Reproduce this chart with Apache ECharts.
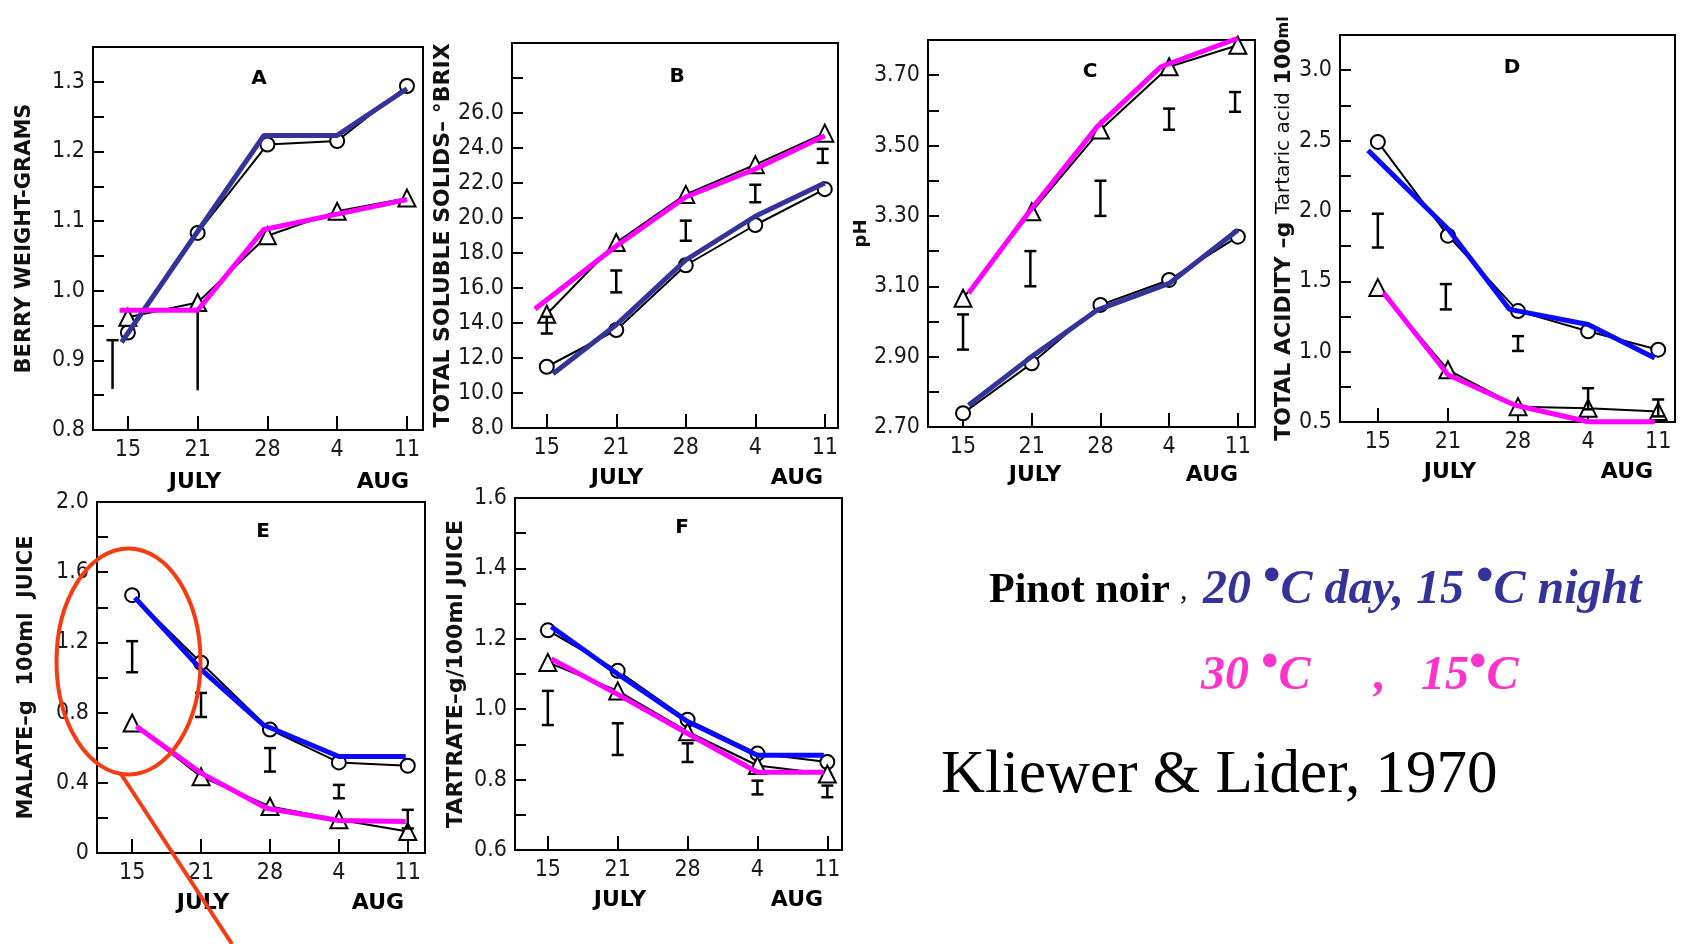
<!DOCTYPE html>
<html><head><meta charset="utf-8">
<script src="https://cdn.jsdelivr.net/npm/echarts@6/dist/echarts.min.js"></script>
<style>html,body{margin:0;padding:0;background:#fff}#c{width:1685px;height:944px}</style>
</head><body><div id="c"></div>
<script>
// ---------- data ----------
const days = ['15','21','28','4','11'];
const dayIdx = [0,1,2,3,4];

// A: berry weight (g)
const A_circle = [0.94, 1.083, 1.21, 1.215, 1.294];
const A_triangle = [0.962, 0.983, 1.079, 1.114, 1.133];
const A_blue = [0.926, 1.085, 1.223, 1.223, 1.29];
const A_blueX = [-0.09, 1, 1.95, 3, 4];
const A_magenta = [0.972, 0.972, 1.088, 1.110, 1.131];
const A_magentaX = [-0.12, 1, 1.95, 3, 4];
const A_err = [[-0.22, 0.859, 0.929, 1], [1, 0.857, 0.976, 0]];
const A_ticks = [0.8,0.85,0.9,0.95,1.0,1.05,1.1,1.15,1.2,1.25,1.3];
const A_labels = [0.8,0.9,1.0,1.1,1.2,1.3];

// B: total soluble solids (Brix)
const B_circle = [11.5, 13.6, 17.3, 19.6, 21.65];
const B_triangle = [14.5, 18.6, 21.35, 23.05, 24.85];
const B_blue = [11.1, 13.9, 17.6, 20.1, 22.0];
const B_blueX = [0.09, 1, 2, 3, 4];
const B_magenta = [14.8, 18.4, 21.2, 22.8, 24.7];
const B_magentaX = [-0.17, 1, 2, 3, 4];
const B_err = [[0,13.4,14.35,3],[1,15.75,17.0,3],[2,18.7,19.85,3],[3,20.9,21.9,3],[3.97,23.15,23.95,3]];
const B_ticks = [8,10,12,14,16,18,20,22,24,26,28];
const B_labels = [8,10,12,14,16,18,20,22,24,26];

// C: pH
const C_circle = [2.739, 2.881, 3.047, 3.118, 3.241];
const C_triangle = [3.066, 3.312, 3.544, 3.724, 3.785];
const C_blue = [2.762, 2.90, 3.032, 3.108, 3.26];
const C_blueX = [0.08, 1, 1.95, 3, 4];
const C_magenta = [3.08, 3.316, 3.553, 3.724, 3.805];
const C_magentaX = [0.08, 0.98, 1.95, 2.88, 4];
const C_err = [[0,2.92,3.02,3],[0.98,3.10,3.20,3],[2,3.30,3.40,3],[3,3.545,3.605,3],[3.96,3.596,3.652,3]];
const C_ticks = [2.7,2.8,2.9,3.0,3.1,3.2,3.3,3.4,3.5,3.6,3.7];
const C_labels = [2.7,2.9,3.1,3.3,3.5,3.7];

// D: total acidity
const D_circle = [2.49, 1.824, 1.288, 1.145, 1.014];
const D_triangle = [1.455, 0.871, 0.609, 0.598, 0.574];
const D_blue = [2.43, 1.871, 1.30, 1.193, 0.955];
const D_blueX = [-0.14, 1, 1.88, 3, 3.95];
const D_magenta = [1.419, 0.836, 0.621, 0.502, 0.502];
const D_magentaX = [0.08, 1, 1.95, 3, 3.95];
const D_err = [[0,1.74,1.98,3],[0.97,1.30,1.48,3],[2,1.005,1.11,3],[3,0.59,0.74,3],[4,0.54,0.66,3]];
const D_ticks = [0.5,0.75,1.0,1.25,1.5,1.75,2.0,2.25,2.5,2.75,3.0];
const D_labels = [0.5,1.0,1.5,2.0,2.5,3.0];

// E: malate
const E_circle = [1.469, 1.084, 0.703, 0.516, 0.497];
const E_triangle = [0.741, 0.435, 0.265, 0.189, 0.122];
const E_blue = [1.455, 1.046, 0.731, 0.55, 0.55];
const E_blueX = [0.04, 1, 1.9, 3, 3.97];
const E_magenta = [0.722, 0.455, 0.255, 0.185, 0.18];
const E_magentaX = [0.06, 1, 1.95, 3, 3.97];
const E_err = [[0,1.03,1.207,3],[1,0.775,0.912,3],[2,0.464,0.598,3],[3,0.312,0.388,3],[4,0.14,0.246,3]];
const E_ticks = [0,0.2,0.4,0.6,0.8,1.0,1.2,1.4,1.6,1.8];
const E_labels = [0,0.4,0.8,1.2,1.6,2.0];

// F: tartrate
const F_circle = [1.224, 1.109, 0.97, 0.874, 0.85];
const F_triangle = [1.133, 1.052, 0.936, 0.84, 0.816];
const F_blue = [1.234, 1.10, 0.965, 0.869, 0.869];
const F_blueX = [0.05, 1, 2, 3, 3.95];
const F_magenta = [1.143, 1.042, 0.931, 0.821, 0.821];
const F_magentaX = [0.05, 1, 2, 3, 3.95];
const F_err = [[0,0.955,1.052,3],[1,0.87,0.96,3],[2,0.85,0.903,3],[3,0.758,0.797,3],[4,0.75,0.783,3]];
const F_ticks = [0.6,0.7,0.8,0.9,1.0,1.1,1.2,1.3,1.4,1.5];
const F_labels = [0.6,0.8,1.0,1.2,1.4,1.6];

// ---------- build ----------
const zip = (xs, ys) => xs.map((x, i) => [x, ys[i]]);
const NAVY = '#333399', BLUE = '#0a0aff', MAG = '#ff00ff', PINK = '#ff33cc';
const FONT = 'DejaVu Sans';
const NUMFONT = '"Liberation Sans Narrow", "DejaVu Sans Condensed", sans-serif';

const panels = [
  {id:'A', grid:{left:93, top:47, width:330, height:383}, xr:[-0.5,4.23], yr:[0.8,1.35],
   ticks:A_ticks, labels:A_labels, fmt:v=>v.toFixed(1), name:'BERRY WEIGHT-GRAMS', nameGap:58, nameSize:21,
   circle:A_circle, tri:A_triangle, blue:A_blue, blueX:A_blueX, mag:A_magenta, magX:A_magentaX, err:A_err, blueColor:NAVY},
  {id:'B', grid:{left:512, top:43, width:326, height:385}, xr:[-0.5,4.19], yr:[8,30],
   ticks:B_ticks, labels:B_labels, fmt:v=>v.toFixed(1), name:'TOTAL SOLUBLE SOLIDS\u2013 \u00B0BRIX', nameGap:56, nameSize:22,
   circle:B_circle, tri:B_triangle, blue:B_blue, blueX:B_blueX, mag:B_magenta, magX:B_magentaX, err:B_err, blueColor:NAVY},
  {id:'C', grid:{left:928, top:40, width:327, height:387}, xr:[-0.51,4.25], yr:[2.7,3.8],
   ticks:C_ticks, labels:C_labels, fmt:v=>v.toFixed(2), name:'pH', nameGap:54, nameSize:18,
   circle:C_circle, tri:C_triangle, blue:C_blue, blueX:C_blueX, mag:C_magenta, magX:C_magentaX, err:C_err, blueColor:NAVY},
  {id:'D', grid:{left:1340, top:35, width:335, height:387}, xr:[-0.54,4.24], yr:[0.5,3.25],
   ticks:D_ticks, labels:D_labels, fmt:v=>v.toFixed(1),
   name:'{b|TOTAL ACIDITY \u2013g} {n|Tartaric acid} {b|100}{s|ml}', nameGap:44, nameSize:22,
   rich:{b:{fontFamily:FONT, fontWeight:'bold', fontSize:22, color:'#111'},
         n:{fontFamily:FONT, fontWeight:'normal', fontSize:20, color:'#111'},
         s:{fontFamily:FONT, fontWeight:'bold', fontSize:16, color:'#111'}},
   circle:D_circle, tri:D_triangle, blue:D_blue, blueX:D_blueX, mag:D_magenta, magX:D_magentaX, err:D_err, blueColor:BLUE},
  {id:'E', grid:{left:97, top:502, width:328, height:351}, xr:[-0.51,4.25], yr:[0,2.0],
   ticks:E_ticks, labels:E_labels, fmt:v=>v===0?'0':v.toFixed(1), name:'MALATE\u2013g  100ml  JUICE', nameGap:60, nameSize:21,
   circle:E_circle, tri:E_triangle, blue:E_blue, blueX:E_blueX, mag:E_magenta, magX:E_magentaX, err:E_err, blueColor:BLUE},
  {id:'F', grid:{left:515, top:498, width:327, height:352}, xr:[-0.47,4.21], yr:[0.6,1.6],
   ticks:F_ticks, labels:F_labels, fmt:v=>v.toFixed(1), name:'TARTRATE\u2013g/100ml JUICE', nameGap:48, nameSize:22,
   circle:F_circle, tri:F_triangle, blue:F_blue, blueX:F_blueX, mag:F_magenta, magX:F_magentaX, err:F_err, blueColor:BLUE}
];

function errRender(params, api) {
  const x = api.value(0), lo = api.value(1), hi = api.value(2), caps = api.value(3);
  const a = api.coord([x, lo]), b = api.coord([x, hi]);
  const hw = 6, st = {stroke:'#000', lineWidth:2.5};
  const ch = [{type:'line', shape:{x1:a[0], y1:a[1], x2:b[0], y2:b[1]}, style:st}];
  if (caps & 1) ch.push({type:'line', shape:{x1:b[0]-hw, y1:b[1], x2:b[0]+hw, y2:b[1]}, style:st});
  if (caps & 2) ch.push({type:'line', shape:{x1:a[0]-hw, y1:a[1], x2:a[0]+hw, y2:a[1]}, style:st});
  return {type:'group', children:ch};
}

const grid = [], xAxis = [], yAxis = [], series = [];
panels.forEach((p, i) => {
  grid.push(Object.assign({show:true, borderColor:'#000', borderWidth:2, backgroundColor:'transparent'}, p.grid));
  xAxis.push({type:'value', gridIndex:i, min:p.xr[0], max:p.xr[1],
    axisLine:{show:true, onZero:false, lineStyle:{color:'#000', width:2}},
    axisTick:{show:true, inside:true, length:14, customValues:dayIdx, lineStyle:{color:'#000', width:2}},
    axisLabel:{customValues:dayIdx, formatter:v=>days[Math.round(v)], margin:9, fontFamily:NUMFONT, fontSize:23, color:'#1a1a1a'},
    splitLine:{show:false}});
  const nts = {fontFamily:FONT, fontWeight:'bold', fontSize:p.nameSize, color:'#111'};
  if (p.rich) nts.rich = p.rich;
  yAxis.push({type:'value', gridIndex:i, min:p.yr[0], max:p.yr[1],
    name:p.name, nameLocation:'middle', nameRotate:90, nameGap:p.nameGap, nameTextStyle:nts,
    axisLine:{show:true, onZero:false, lineStyle:{color:'#000', width:2}},
    axisTick:{show:true, inside:true, length:11, customValues:p.ticks, lineStyle:{color:'#000', width:2}},
    axisLabel:{customValues:p.labels, formatter:p.fmt, margin:8, fontFamily:NUMFONT, fontSize:23, color:'#1a1a1a'},
    splitLine:{show:false}});
  const base = {type:'line', xAxisIndex:i, yAxisIndex:i, animation:false, clip:false};
  series.push(Object.assign({}, base, {data:zip(dayIdx, p.circle), symbol:'circle', symbolSize:14, z:3,
    lineStyle:{color:'#000', width:2}, itemStyle:{color:'#fff', borderColor:'#000', borderWidth:2}}));
  series.push(Object.assign({}, base, {data:zip(dayIdx, p.tri), symbol:'triangle', symbolSize:17, z:3,
    lineStyle:{color:'#000', width:2}, itemStyle:{color:'#fff', borderColor:'#000', borderWidth:2}}));
  series.push({type:'custom', xAxisIndex:i, yAxisIndex:i, renderItem:errRender, data:p.err, z:4,
    encode:{x:0, y:[1,2]}, animation:false, clip:false});
  series.push(Object.assign({}, base, {data:zip(p.blueX, p.blue), symbol:'none', z:6,
    lineStyle:{color:p.blueColor, width:5}}));
  series.push(Object.assign({}, base, {data:zip(p.magX, p.mag), symbol:'none', z:7,
    lineStyle:{color:MAG, width:5}}));
});

// ---------- annotations ----------
const txt = (x, y, text, font, fill, align) => ({type:'text', x:x, y:y, z:100,
  style:{text:text, font:font, fill:fill, textAlign:align||'center', align:align||'center',
         textVerticalAlign:'middle', verticalAlign:'middle'}});
const letterFont = 'bold 20px "DejaVu Sans"';
const monthFont = 'bold 22px "DejaVu Sans"';
const legFont = 'italic bold 48px "Liberation Serif"';
const richTxt = (x, y, text, color) => ({type:'text', x:x, y:y, z:100,
  style:{text:text, fill:color, font:legFont, textAlign:'left', align:'left',
    textVerticalAlign:'middle', verticalAlign:'middle',
    rich:{a:{fontFamily:'Liberation Serif', fontSize:48, fontWeight:'bold', fontStyle:'italic', fill:color, color:color},
          d:{fontFamily:'Liberation Serif', fontSize:50, fontWeight:'bold', fontStyle:'normal', fill:color, color:color,
             verticalAlign:'top', height:22}}}});
const graphic = [
  txt(259, 79, 'A', letterFont, '#000'), txt(677, 77, 'B', letterFont, '#000'),
  txt(1090, 72, 'C', letterFont, '#000'), txt(1512, 68, 'D', letterFont, '#000'),
  txt(263, 532, 'E', letterFont, '#000'), txt(682, 528, 'F', letterFont, '#000'),
  txt(195, 482, 'JULY', monthFont, '#000'), txt(383, 482, 'AUG', monthFont, '#000'),
  txt(617, 478, 'JULY', monthFont, '#000'), txt(797, 478, 'AUG', monthFont, '#000'),
  txt(1035, 475, 'JULY', monthFont, '#000'), txt(1212, 475, 'AUG', monthFont, '#000'),
  txt(1450, 472, 'JULY', monthFont, '#000'), txt(1627, 472, 'AUG', monthFont, '#000'),
  txt(203, 903, 'JULY', monthFont, '#000'), txt(378, 903, 'AUG', monthFont, '#000'),
  txt(620, 900, 'JULY', monthFont, '#000'), txt(797, 900, 'AUG', monthFont, '#000'),
  txt(989, 591, 'Pinot noir', 'bold 42px "Liberation Serif"', '#000', 'left'),
  txt(1180, 591, ',', '30px "Liberation Serif"', '#000', 'left'),
  richTxt(1203, 591, '{a|20 }{d|\u2022}{a|C day, 15 }{d|\u2022}{a|C night}', NAVY),
  richTxt(1201, 677, '{a|30 }{d|\u2022}{a|C}', PINK),
  txt(1374, 677, ',', legFont, PINK, 'left'),
  richTxt(1421, 677, '{a|15}{d|\u2022}{a|C}', PINK),
  txt(941, 776, 'Kliewer & Lider, 1970', '61px "Liberation Serif"', '#000', 'left'),
  {type:'ellipse', z:101, shape:{cx:128.5, cy:661.5, rx:72, ry:113}, style:{fill:null, stroke:'#f53b12', lineWidth:4}},
  {type:'line', z:101, shape:{x1:121, y1:774, x2:232, y2:944}, style:{stroke:'#f53b12', lineWidth:4}}
];

const chart = echarts.init(document.getElementById('c'), null, {renderer:'canvas'});
chart.setOption({backgroundColor:'#fff', animation:false, grid, xAxis, yAxis, series, graphic});
</script>
</body></html>
